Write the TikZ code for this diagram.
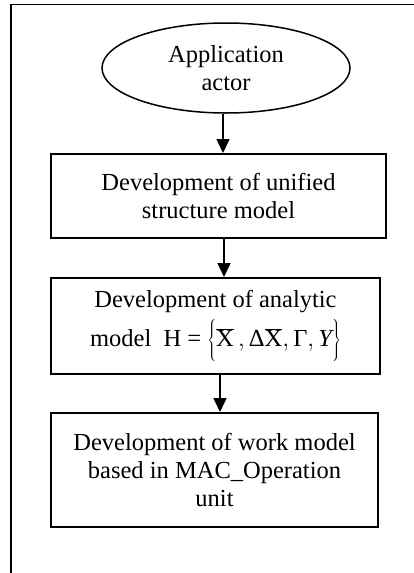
\documentclass[tikz,border=0pt]{standalone}
\usepackage{fontspec}
\setmainfont{Liberation Serif}
\usetikzlibrary{shapes.geometric,arrows.meta}
\begin{document}
\begin{tikzpicture}[x=1pt,y=-1pt,
  every node/.style={font=\fontsize{24.5}{28}\selectfont, align=center, inner sep=0pt},
  actor/.style={ellipse, draw, line width=1.5pt, minimum width=248pt, minimum height=90pt},
  stage/.style={rectangle, draw, line width=2pt},
  flow/.style={line width=1.5pt, -{Triangle[length=14pt,width=13pt]}},
  frame/.style={line width=1.8pt}]
\useasboundingbox (0,0) rectangle (414,573);
% open frame: top and left edges only
\coordinate (ftr) at (414,4.5);
\coordinate (ftl) at (11,4.5);
\coordinate (fbl) at (11,573);
\draw[frame] (ftr) -- (ftl) -- (fbl);

\node[actor] (actor) at (226,68) {Application\\actor};
\node[stage, minimum width=335pt, minimum height=84pt] (unified) at (218.5,196)
  {Development of unified\\structure model};
\node[stage, minimum width=329pt, minimum height=96pt] (analytic) at (215.5,326)
  {Development of analytic\\[6pt]model\ \ H = $\left\{\vrule height 24pt depth 14pt width 0pt\overline{\mbox{X}}\,,\mbox{Δ}\overline{\mbox{X}},\mbox{Γ},\mbox{\itshape Y}\right\}$};
\node[stage, minimum width=327pt, minimum height=114pt] (work) at (214.5,470)
  {Development of work model\\based in MAC\_Operation\\unit};

\draw[flow] ([xshift=-3pt]actor.south) -- ([xshift=-3pt]actor.south |- unified.north);
\draw[flow] ([xshift=5.5pt]unified.south) -- ([xshift=5.5pt]unified.south |- analytic.north);
\draw[flow] ([xshift=4.5pt]analytic.south) -- ([xshift=4.5pt]analytic.south |- work.north);
\end{tikzpicture}
\end{document}
